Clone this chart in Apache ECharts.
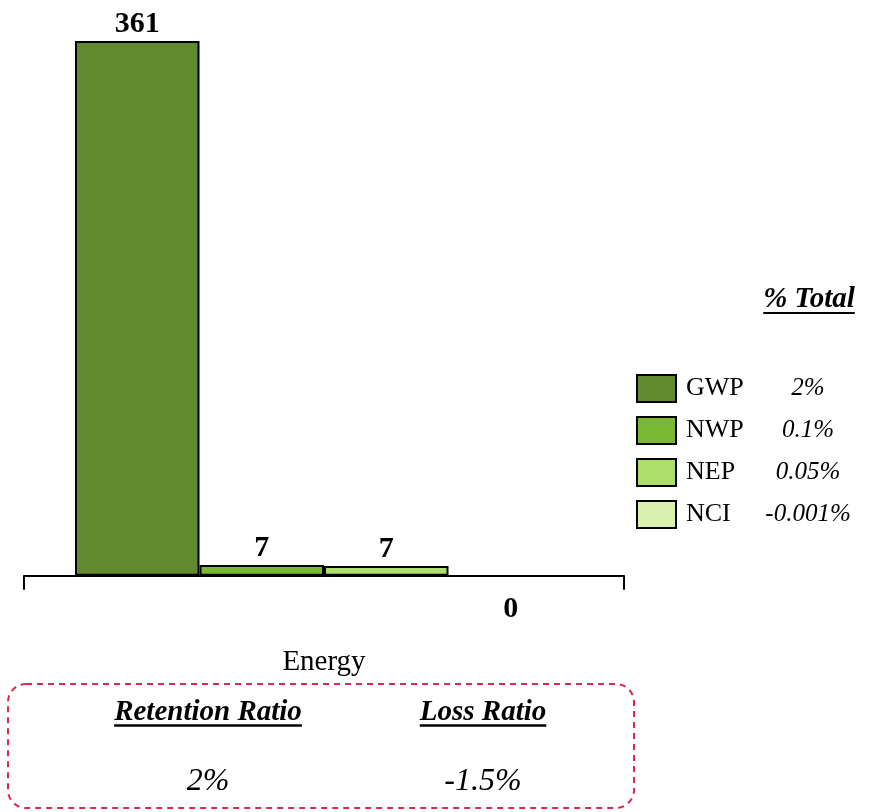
<!DOCTYPE html>
<html>
<head>
<meta charset="utf-8">
<script src="https://cdn.jsdelivr.net/npm/echarts@6/dist/echarts.min.js"></script>
<style>
html,body{margin:0;padding:0;background:#fff;}
#c{width:870px;height:812px;}
</style>
</head>
<body>
<div id="c"></div>
<script>
const categories = ['Energy'];
const seriesNames = ['GWP', 'NWP', 'NEP', 'NCI'];
const seriesValues = [[361], [7.4], [6.6], [-0.1]];
const seriesShares = ['2%', '0.1%', '0.05%', '-0.001%'];
const ratioLabels = ['Retention Ratio', 'Loss Ratio'];
const ratioValues = ['2%', '-1.5%'];

const colors = ['#618A2E', '#7AB833', '#ADDE6D', '#DAF0AE'];
const FONT = '"Liberation Serif", "DejaVu Serif", serif';

function textWidth(txt, font) {
  const cv = document.createElement('canvas').getContext('2d');
  cv.font = font;
  return cv.measureText(txt).width;
}

const shareMap = {};
seriesNames.forEach((n, i) => shareMap[n] = seriesShares[i]);

const series = seriesNames.map((name, i) => ({
  name: name,
  type: 'bar',
  data: seriesValues[i],
  barWidth: 124.5,
  barGap: '0%',
  clip: false,
  itemStyle: { color: colors[i], borderColor: '#000', borderWidth: 2 },
  label: {
    show: true,
    position: seriesValues[i][0] < 0 ? 'bottom' : 'top',
    distance: seriesValues[i][0] < 0 ? 17 : 2,
    fontFamily: FONT,
    fontWeight: 'bold',
    fontSize: 30,
    color: '#000',
    formatter: p => String(Math.round(p.value) || 0)
  }
}));

const headFont = 'italic bold 29px "Liberation Serif"';
const graphics = [];
// % Total header
const totW = textWidth('% Total', headFont);
graphics.push({ type: 'text', x: 809, y: 300,
  style: { text: '% Total', font: headFont, fill: '#000', align: 'center', verticalAlign: 'middle' } });
graphics.push({ type: 'line', shape: { x1: 809 - totW / 2, y1: 313, x2: 809 + totW / 2, y2: 313 },
  style: { stroke: '#000', lineWidth: 2 } });
// dashed box
graphics.push({ type: 'rect', shape: { x: 8, y: 684, width: 626, height: 124, r: 18 },
  style: { fill: 'none', stroke: '#E0284F', lineWidth: 2, lineDash: [6, 5] } });
const ratioX = [208, 483];
ratioLabels.forEach((t, i) => {
  const w = textWidth(t, headFont);
  graphics.push({ type: 'text', x: ratioX[i], y: 713,
    style: { text: t, font: headFont, fill: '#000', align: 'center', verticalAlign: 'middle' } });
  graphics.push({ type: 'line', shape: { x1: ratioX[i] - w / 2, y1: 725.5, x2: ratioX[i] + w / 2, y2: 725.5 },
    style: { stroke: '#000', lineWidth: 2.5 } });
  graphics.push({ type: 'text', x: ratioX[i], y: 782,
    style: { text: ratioValues[i], font: 'italic 32px "Liberation Serif"', fill: '#000', align: 'center', verticalAlign: 'middle' } });
});

const option = {
  animation: false,
  backgroundColor: '#fff',
  grid: { left: 24, right: 246, top: 41, bottom: 236, containLabel: false },
  xAxis: {
    type: 'category',
    data: categories,
    axisLine: { lineStyle: { color: '#000', width: 2 } },
    axisTick: { show: true, length: 14, lineStyle: { color: '#000', width: 2 } },
    axisLabel: { margin: 72, fontFamily: FONT, fontSize: 29, color: '#000' }
  },
  yAxis: {
    type: 'value', min: -0.1, max: 361, show: false,
    splitLine: { show: false }
  },
  legend: {
    orient: 'vertical',
    left: 636, top: 374, padding: 0,
    itemWidth: 39, itemHeight: 27, itemGap: 13,
    icon: 'rect',
    data: seriesNames,
    formatter: n => '{n|' + n + '}{p|' + shareMap[n] + '}',
    textStyle: {
      rich: {
        n: { fontFamily: FONT, fontSize: 26, lineHeight: 27, color: '#000', width: 77, padding: [0, 0, 0, 5] },
        p: { fontFamily: FONT, fontSize: 25, lineHeight: 27, fontStyle: 'italic', color: '#000', width: 90, align: 'center' }
      }
    }
  },
  series: series,
  graphic: graphics
};

const chart = echarts.init(document.getElementById('c'), null, { renderer: 'canvas' });
chart.setOption(option);
</script>
</body>
</html>
